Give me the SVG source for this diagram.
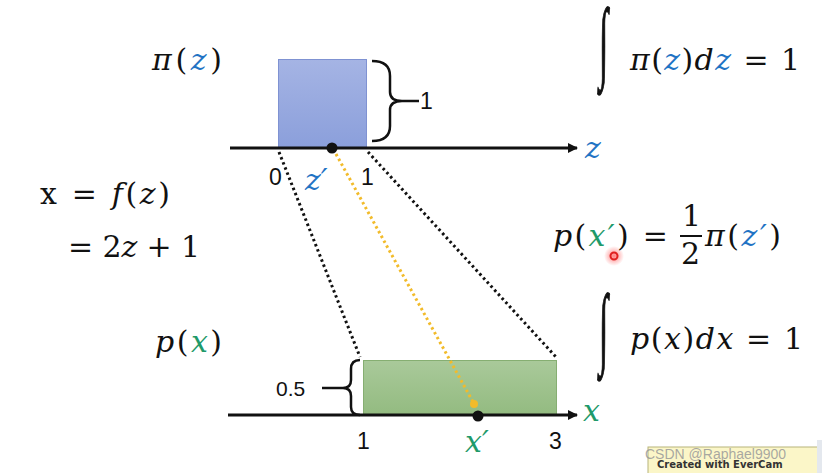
<svg xmlns="http://www.w3.org/2000/svg" width="822" height="473" viewBox="0 0 822 473">
<defs>
<style>
.m{font-family:"DejaVu Serif","Liberation Serif",serif;font-size:30px;fill:#111}
.i{font-style:italic}
.s{font-family:"Liberation Sans","DejaVu Sans",sans-serif;font-size:23px;fill:#111}
.b{fill:#1f73c4}
.g{fill:#1f9a6a}
.ax{stroke:#111;stroke-width:3;fill:none}
.dot{stroke:#111;stroke-width:3;stroke-dasharray:2.5 3;fill:none}
.or{stroke:#f2bb2a;stroke-width:3;stroke-dasharray:2.5 3;fill:none}
.br{stroke:#111;stroke-width:2.5;fill:none}
.int{font-family:"Liberation Serif",serif;font-size:30px;fill:#111;font-style:italic;stroke:#111;stroke-width:0.5}
</style>
<linearGradient id="bg" x1="0" y1="0" x2="0" y2="1"><stop offset="0" stop-color="#a5b4e4"/><stop offset="1" stop-color="#8b9fdb"/></linearGradient>
<linearGradient id="gg" x1="0" y1="0" x2="0" y2="1"><stop offset="0" stop-color="#a9c99a"/><stop offset="1" stop-color="#93bb80"/></linearGradient>
<marker id="ar" markerWidth="10" markerHeight="10" refX="9" refY="5" orient="auto" markerUnits="userSpaceOnUse"><path d="M0,0 L10,5 L0,10 Z" fill="#111"/></marker>
<radialGradient id="glow"><stop offset="0" stop-color="#ff3030" stop-opacity="0.6"/><stop offset="1" stop-color="#ff3030" stop-opacity="0"/></radialGradient>
</defs>
<rect width="822" height="473" fill="#fff"/>

<g id="top-box">
<rect x="278.5" y="59.5" width="88" height="88" fill="url(#bg)" stroke="#7f92d2"/>
<path class="br" d="M372,61 Q390,61 390,76 L390,92 Q390,101 402,101 Q390,101 390,110 L390,126 Q390,141 372,141"/>
<line class="br" x1="402" y1="101" x2="419" y2="101"/>
<text class="s" x="420" y="109">1</text>
</g>

<g id="bottom-box">
<rect x="363.5" y="360.5" width="193" height="55" fill="url(#gg)" stroke="#86ae72"/>
<path class="br" d="M360,360 Q351,360 351,369 L351,380 Q351,388 343,388 Q351,388 351,396 L351,407 Q351,415 360,415"/>
<line class="br" x1="322" y1="388" x2="343" y2="388"/>
<text class="s" x="276" y="396" style="font-size:21px">0.5</text>
</g>

<g id="connectors">
<line class="ax" x1="230" y1="148" x2="577" y2="148" marker-end="url(#ar)"/>
<line class="ax" x1="228" y1="415" x2="577" y2="415" marker-end="url(#ar)"/>
<line class="dot" x1="279" y1="152" x2="360" y2="357"/>
<line class="dot" x1="368" y1="152" x2="556" y2="357"/>
<line class="or" x1="336" y1="154" x2="473" y2="402"/>
<circle cx="474" cy="404" r="4" fill="#f2bb2a"/>
<circle cx="332" cy="148" r="5.5" fill="#111"/>
<circle cx="478" cy="416" r="5.5" fill="#111"/>
</g>

<g id="axis-labels">
<text class="m i b" x="585" y="158">z</text>
<text class="s" x="269" y="185">0</text>
<text class="m i b" x="305" y="190">z′</text>
<text class="s" x="361" y="185">1</text>
<text class="m i g" x="583" y="421">x</text>
<text class="s" x="357" y="449">1</text>
<text class="m i g" x="465" y="452">x′</text>
<text class="s" x="549" y="449">3</text>
</g>

<g id="labels">
<text class="m" x="152" y="70" textLength="70" lengthAdjust="spacing"><tspan class="i">π</tspan>(<tspan class="i b">z</tspan>)</text>
<text class="m" x="155" y="352" textLength="67" lengthAdjust="spacing"><tspan class="i">p</tspan>(<tspan class="i g">x</tspan>)</text>
<text class="m" x="40" y="204" textLength="130" lengthAdjust="spacing">x = <tspan class="i">f</tspan>(<tspan class="i">z</tspan>)</text>
<text class="m" x="68" y="257" textLength="132" lengthAdjust="spacing">= 2<tspan class="i">z</tspan> + 1</text>
<text class="int" transform="translate(599,0) scale(1.1,3)" x="0" y="23.5">∫</text>
<text class="m" x="630" y="70" textLength="170" lengthAdjust="spacing"><tspan class="i">π</tspan>(<tspan class="i b">z</tspan>)<tspan class="i">d</tspan><tspan class="i b">z</tspan> = 1</text>
<text class="m" x="553" y="246" textLength="115" lengthAdjust="spacing"><tspan class="i">p</tspan>(<tspan class="i g">x′</tspan>) =</text>
<text class="m" x="682" y="226">1</text>
<line x1="680" y1="236" x2="702" y2="236" stroke="#111" stroke-width="2"/>
<text class="m" x="681" y="264">2</text>
<text class="m" x="705" y="246" textLength="76" lengthAdjust="spacing"><tspan class="i">π</tspan>(<tspan class="i b">z′</tspan>)</text>
<text class="int" transform="translate(599,0) scale(1.1,3)" x="0" y="119">∫</text>
<text class="m" x="630" y="349" textLength="173" lengthAdjust="spacing"><tspan class="i">p</tspan>(<tspan class="i">x</tspan>)<tspan class="i">dx</tspan> = 1</text>
</g>

<g id="cursor">
<circle cx="614" cy="256" r="10" fill="url(#glow)"/>
<circle cx="614" cy="256" r="3.5" fill="none" stroke="#e02020" stroke-width="2"/>
</g>

<g id="watermark">
<rect x="648" y="447" width="170" height="30" fill="#fbf6c8" stroke="#b8b37a"/>
<rect x="817" y="440" width="5" height="33" fill="#e4e8ee"/>
<text x="657" y="468" font-family="DejaVu Sans, sans-serif" font-size="10" font-weight="bold" fill="#333">Created with EverCam</text>
<text x="645" y="459" font-family="Liberation Sans, sans-serif" font-size="14" fill="#999" fill-opacity="0.85">CSDN @Raphael9900</text>
</g>
</svg>
